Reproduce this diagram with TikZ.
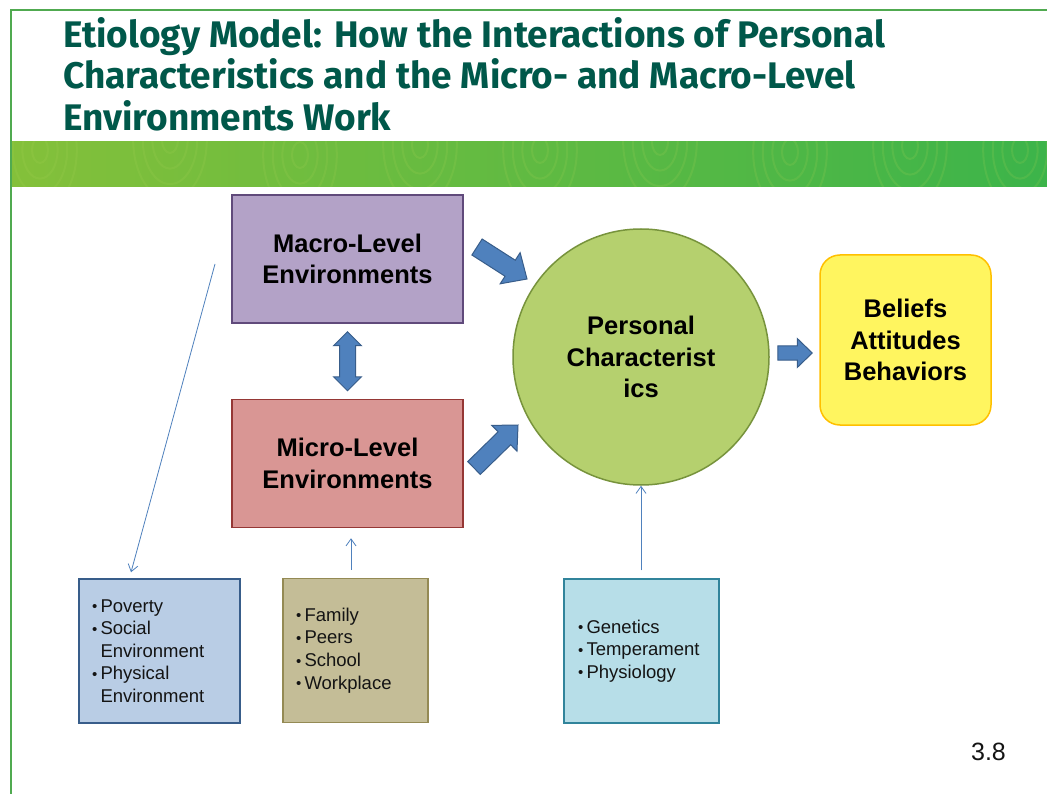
\documentclass[tikz,border=0pt]{standalone}
\usepackage{fontspec}
\setmainfont{Liberation Sans}
\newfontfamily\titlefont{Fira Sans}
\usetikzlibrary{arrows.meta,calc}

\definecolor{titlecol}{RGB}{0,88,74}
\definecolor{framegreen}{RGB}{80,170,80}
\definecolor{bandL}{RGB}{132,192,58}
\definecolor{bandR}{RGB}{60,180,74}
\definecolor{grain}{RGB}{165,210,85}
\definecolor{macroF}{RGB}{179,162,199}
\definecolor{macroD}{RGB}{96,74,123}
\definecolor{microF}{RGB}{217,150,148}
\definecolor{microD}{RGB}{149,55,53}
\definecolor{circF}{RGB}{181,208,110}
\definecolor{circD}{RGB}{119,147,60}
\definecolor{belF}{RGB}{255,245,95}
\definecolor{belD}{RGB}{255,192,0}
\definecolor{arrF}{RGB}{79,129,189}
\definecolor{arrD}{RGB}{56,93,138}
\definecolor{povF}{RGB}{185,205,229}
\definecolor{povD}{RGB}{56,93,138}
\definecolor{famF}{RGB}{196,189,151}
\definecolor{famD}{RGB}{148,138,84}
\definecolor{genF}{RGB}{183,222,232}
\definecolor{genD}{RGB}{49,132,155}
\definecolor{txt}{RGB}{20,20,20}

% block arrow: #1 tail, #2 tip, #3 shaft half width, #4 head half width, #5 head length
\newcommand\blockarr[5]{%
  \path coordinate (ba-n) at ($(#2)!#5!(#1)$);
  \filldraw[barrow]
    ($(#1)!#3!90:(#2)$) -- ($(ba-n)!#3!-90:(#1)$) -- ($(ba-n)!#4!-90:(#1)$) -- (#2)
    -- ($(ba-n)!#4!90:(#1)$) -- ($(ba-n)!#3!90:(#1)$) -- ($(#1)!#3!-90:(#2)$) -- cycle;}
% double block arrow
\newcommand\dblockarr[5]{%
  \path coordinate (da-a) at ($(#1)!#5!(#2)$) coordinate (da-b) at ($(#2)!#5!(#1)$);
  \filldraw[barrow]
    (#1) -- ($(da-a)!#4!90:(#2)$) -- ($(da-a)!#3!90:(#2)$) -- ($(da-b)!#3!-90:(#1)$)
    -- ($(da-b)!#4!-90:(#1)$) -- (#2) -- ($(da-b)!#4!90:(#1)$) -- ($(da-b)!#3!90:(#1)$)
    -- ($(da-a)!#3!-90:(#2)$) -- ($(da-a)!#4!-90:(#2)$) -- cycle;}
\newcommand\bul{\makebox[8.5pt][l]{\raisebox{0.5pt}{\fontsize{15}{15}\selectfont\textbullet}}}
\newcommand\ind{\hspace*{8.5pt}}

\begin{document}
\begin{tikzpicture}[x=1pt,y=-1pt,
  mainbox/.style={rectangle, line width=1.5pt, minimum width=231, minimum height=128,
    align=center, text=black, font=\bfseries\fontsize{25.5}{31.5}\selectfont},
  listbox/.style={rectangle, line width=1.5pt, minimum height=144, inner xsep=13pt,
    align=left, text=txt, font=\fontsize{18.5}{22.6}\selectfont},
  barrow/.style={fill=arrF, draw=arrD, line width=1pt, line join=miter},
  thinarr/.style={draw=arrF, line width=0.8pt, -{Straight Barb[length=7pt,width=10pt]}},
  titletext/.style={anchor=base west, inner sep=0, text=titlecol,
    font=\titlefont\bfseries\fontsize{37}{42}\selectfont}]
\useasboundingbox (0,0) rectangle (1047,794);
\fill[white] (0,0) rectangle (1047,794);

% frame
\draw[framegreen, line width=2pt] (1047,10) -- (11,10) -- (11,794);

% title
\node[titletext] (t1) at (63,48) {Etiology Model: How the Interactions of Personal};
\node[titletext] (t2) at (63,89) {Characteristics and the Micro- and Macro-Level};
\node[titletext] (t3) at (63,131) {Environments Work};

% green band
\shade[left color=bandL, right color=bandR] (12,142) rectangle (1047,187);
\begin{scope}
  \clip (12,142) rectangle (1047,187);
  \foreach \cx/\cy in {40/150,170/140,300/155,420/145,540/150,660/142,790/152,910/146,1020/150}{
    \foreach \r in {10,22,34,46}{
      \draw[grain, opacity=0.18, line width=2pt] (\cx,\cy) ellipse ({\r*0.8} and {\r*1.3});
    }
  }
\end{scope}

% main nodes
\node[mainbox, fill=macroF, draw=macroD] (macro) at (347.5,259) {Macro-Level\\Environments};
\node[mainbox, fill=microF, draw=microD] (micro) at (347.5,463.5) {Micro-Level\\Environments};
\node[circle, minimum size=256, fill=circF, draw=circD, line width=1.5pt, align=center,
  font=\bfseries\fontsize{25.5}{31.5}\selectfont] (pc) at (641,357) {Personal\\Characterist\\ics};
\node[rectangle, rounded corners=20pt, minimum width=171, minimum height=170, fill=belF,
  draw=belD, line width=1.5pt, align=center, font=\bfseries\fontsize{25.5}{31.5}\selectfont]
  (bel) at (905.5,340) {Beliefs\\Attitudes\\Behaviors};

% list boxes
\node[listbox, fill=povF, draw=povD, text width=135] (pov) at (159.5,651)
  {\bul Poverty\\\bul Social\\\ind Environment\\\bul Physical\\\ind Environment};
\node[listbox, fill=famF, draw=famD, text width=119] (fam) at (355.5,650.5)
  {\bul Family\\\bul Peers\\\bul School\\\bul Workplace};
\node[listbox, fill=genF, draw=genD, text width=127, inner xsep=14pt] (gen) at (641.5,651)
  {\bul Genetics\\\bul Temperament\\\bul Physiology};

% block arrows
\coordinate (a1t) at (477,247); \coordinate (a1h) at (527,279);
\blockarr{a1t}{a1h}{9.5pt}{18.5pt}{20pt}
\coordinate (a2t) at (474,468); \coordinate (a2h) at (518,425);
\blockarr{a2t}{a2h}{9pt}{18pt}{19pt}
\coordinate (a3t) at ($(pc.east)+(8,-4)$); \coordinate (a3h) at ($(bel.west)+(-7,13)$);
\blockarr{a3t}{a3h}{7pt}{14.5pt}{15pt}
\coordinate (dt) at ($(macro.south)+(0,8)$); \coordinate (db) at ($(micro.north)+(0,-8)$);
\dblockarr{dt}{db}{8pt}{14pt}{14pt}

% thin arrows
\coordinate (p1) at (215,264);
\draw[thinarr] (p1) -- ($(pov.north)+(-28.5,-6)$);
\draw[thinarr] ($(fam.north)+(-4.5,-8)$) -- ($(micro.south)+(3.5,10)$);
\draw[thinarr] ($(gen.north)+(-0.5,-8)$) -- (pc.south);

% page number
\node[font=\fontsize{25}{30}\selectfont, text=txt] (num) at (988.5,752) {3.8};
\end{tikzpicture}
\end{document}
